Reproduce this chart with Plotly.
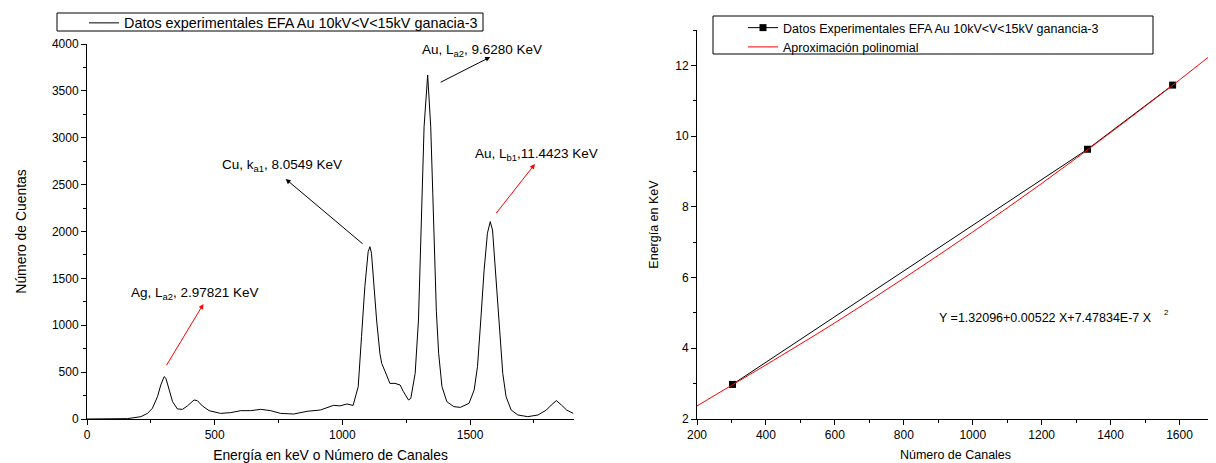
import plotly.graph_objects as go

# espectro EFA Au (canal, cuentas)
canales = [0, 100, 159, 211, 237, 256, 276, 289, 302, 309, 322, 335, 354, 374, 393, 419, 432,
           452, 478, 523, 563, 602, 641, 680, 719, 758, 810, 862, 914, 966, 990, 1018, 1042,
           1062, 1075, 1088, 1101, 1108, 1114, 1121, 1134, 1147, 1154, 1173, 1186, 1206, 1226,
           1239, 1259, 1268, 1285, 1298, 1304, 1311, 1320, 1334, 1346, 1354, 1362, 1368, 1377,
           1390, 1409, 1436, 1462, 1496, 1516, 1529, 1542, 1555, 1568, 1579, 1588, 1601, 1614,
           1628, 1641, 1661, 1687, 1726, 1766, 1799, 1818, 1838, 1858, 1878, 1904]
cuentas = [0, 0, 4, 25, 60, 114, 238, 363, 452, 434, 309, 185, 107, 103, 139, 203, 196,
           139, 89, 60, 68, 89, 89, 103, 89, 60, 53, 82, 96, 146, 140, 160, 145,
           345, 878, 1412, 1785, 1838, 1767, 1518, 1056, 700, 594, 469, 380, 380, 363,
           292, 203, 220, 487, 1056, 1696, 2409, 3118, 3669, 3118, 2409, 1600, 1150, 700,
           345, 185, 132, 124, 167, 309, 558, 1056, 1590, 1981, 2105, 2016, 1483, 949,
           487, 238, 96, 43, 25, 43, 96, 149, 196, 149, 96, 60]

# calibracion
canal_exp = [303, 1333, 1580]
energia_exp = [2.97821, 9.628, 11.4423]
canal_fit = [200, 300, 400, 600, 800, 1000, 1200, 1400, 1600, 1700]
energia_fit = [2.37, 2.95, 3.53, 4.72, 5.98, 7.29, 8.66, 10.10, 11.59, 12.36]

# la pagina tiene 8px de margen en body
OFF = 8
W, H = 1216 - OFF, 463 - OFF
fnt = "Liberation Sans, Arial, sans-serif"
fs_izq = 13.5
fs_der = 12.5
fs_tick = 12


def px(x):
    return (x - OFF) / W


def py(y):
    return 1 - (y - OFF) / H


def eje(fs):
    return dict(showline=True, linecolor="black", linewidth=1, ticks="outside", ticklen=5,
                tickcolor="black", showgrid=False, zeroline=False, automargin=False,
                tickfont=dict(size=fs_tick, color="black", family=fnt),
                title_font=dict(size=fs, color="black", family=fnt))


fig = go.Figure()

fig.add_trace(go.Scatter(x=canales, y=cuentas, mode="lines",
                         line=dict(color="black", width=1),
                         name="Datos experimentales EFA Au 10kV<V<15kV ganacia-3",
                         xaxis="x", yaxis="y", legend="legend", showlegend=True))

fig.add_trace(go.Scatter(x=canal_exp, y=energia_exp, mode="lines+markers",
                         line=dict(color="black", width=1),
                         marker=dict(symbol="square", size=7, color="black"),
                         name="Datos Experimentales EFA Au 10kV<V<15kV ganancia-3",
                         xaxis="x2", yaxis="y2", legend="legend2", showlegend=True))
fig.add_trace(go.Scatter(x=canal_fit, y=energia_fit, mode="lines",
                         line=dict(color="red", width=1, shape="spline"),
                         name="Aproximación polinomial",
                         xaxis="x2", yaxis="y2", legend="legend2", showlegend=True))

fig.update_layout(
    width=W, height=H, margin=dict(l=0, r=0, t=0, b=0, autoexpand=False),
    paper_bgcolor="white", plot_bgcolor="white", showlegend=True,
    font=dict(family=fnt, size=fs_izq, color="black"),
    xaxis=dict(eje(13.9), domain=[px(87), px(574)], range=[0, 1907], dtick=500,
               minor=dict(dtick=250, ticks="outside", ticklen=3, tickcolor="black"),
               title=dict(text="Energía en keV o Número de Canales", standoff=8), anchor="y"),
    yaxis=dict(eje(13.9), domain=[py(419), py(44)], range=[0, 4000], dtick=500,
               minor=dict(dtick=250, ticks="outside", ticklen=3, tickcolor="black"),
               title=dict(text="Número de Cuentas", standoff=22), anchor="x"),
    xaxis2=dict(eje(fs_der), domain=[px(697), px(1214)], range=[200, 1700], dtick=200,
                minor=dict(dtick=100, ticks="outside", ticklen=3, tickcolor="black"),
                title=dict(text="Número de Canales", standoff=8), anchor="y2"),
    yaxis2=dict(eje(fs_der), domain=[py(419), py(30)], range=[2, 13], dtick=2,
                minor=dict(dtick=1, ticks="outside", ticklen=3, tickcolor="black"),
                title=dict(text="Energía en KeV", standoff=13), anchor="x2"),
    legend=dict(x=px(84), y=py(7), xanchor="left", yanchor="top",
                borderwidth=0, bgcolor="rgba(0,0,0,0)",
                font=dict(size=14.4, family=fnt), tracegroupgap=0),
    legend2=dict(x=px(743), y=py(13), xanchor="left", yanchor="top",
                 borderwidth=0, bgcolor="rgba(0,0,0,0)",
                 font=dict(size=fs_der, family=fnt), tracegroupgap=0),
)

# marcos de las leyendas
for x0, y0, x1, y1 in [(57, 13, 483, 31), (713, 16, 1153, 54)]:
    fig.add_shape(type="rect", xref="paper", yref="paper",
                  x0=px(x0), x1=px(x1), y0=py(y1), y1=py(y0),
                  line=dict(color="black", width=1), fillcolor="rgba(0,0,0,0)", layer="below")

# flechas: (cabeza_x, cabeza_y, cola_x, cola_y, color)
flechas = [
    (1579, 3861, 1379, 3584, "black"),
    (778, 2560, 1085, 1856, "black"),
    (1754, 2720, 1598, 2180, "red"),
    (456, 1227, 308, 558, "red"),
]
for hx, hy, tx, ty, c in flechas:
    fig.add_annotation(x=hx, y=hy, ax=tx, ay=ty, xref="x", yref="y", axref="x", ayref="y",
                       text="", showarrow=True, arrowhead=2, arrowsize=1, arrowwidth=1,
                       arrowcolor=c)

etiquetas = [
    (1305, 3930, "Au, L<sub>a2</sub>, 9.6280 KeV"),
    (521, 2699, "Cu, k<sub>a1</sub>, 8.0549 KeV"),
    (1512, 2816, "Au, L<sub>b1</sub>,11.4423 KeV"),
    (166, 1341, "Ag, L<sub>a2</sub>, 2.97821 KeV"),
]
for x, y, t in etiquetas:
    fig.add_annotation(x=x, y=y, xref="x", yref="y", text=t, showarrow=False,
                       xanchor="left", yanchor="middle", font=dict(size=fs_izq, color="black"))

fig.add_annotation(x=px(937), y=py(318), xref="paper", yref="paper",
                   text="Y =1.32096+0.00522 X+7.47834E-7 X", showarrow=False,
                   xanchor="left", yanchor="middle", font=dict(size=fs_der, color="black"))
fig.add_annotation(x=px(1166), y=py(312), xref="paper", yref="paper",
                   text="2", showarrow=False, xanchor="center", yanchor="middle",
                   font=dict(size=8, color="black"))

fig.write_html("out.html")
